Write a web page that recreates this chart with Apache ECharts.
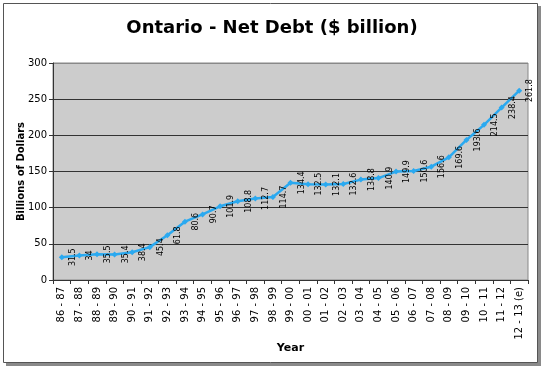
<!DOCTYPE html>
<html>
<head>
<meta charset="utf-8">
<script src="https://cdn.jsdelivr.net/npm/echarts@6/dist/echarts.min.js"></script>
<style>
html,body{margin:0;padding:0;background:#fff;}
#chart{width:544px;height:372px;}
</style>
</head>
<body>
<div id="chart"></div>
<script>
var categories = ['86 - 87','87 - 88','88 - 89','89 - 90','90 - 91','91 - 92','92 - 93','93 - 94','94 - 95','95 - 96','96 - 97','97 - 98','98 - 99','99 - 00','00 - 01','01 - 02','02 - 03','03 - 04','04 - 05','05 - 06','06 - 07','07 - 08','08 - 09','09 - 10','10 - 11','11 - 12','12 - 13 (e)'];
var netDebt = [31.5,34,35.5,35.4,38.4,45.4,61.8,80.6,90.7,101.9,108.8,112.7,114.7,134.4,132.5,132.1,132.6,138.8,140.9,149.9,150.6,156.6,169.6,193.6,214.5,238.4,261.8];
var yTicks = [0,50,100,150,200,250,300];

var FONT = 'DejaVu Sans';
var chart = echarts.init(document.getElementById('chart'), null, {renderer:'canvas'});
chart.setOption({
  animation: false,
  backgroundColor: '#ffffff',
  textStyle: {fontFamily: FONT},
  graphic: [
    {type:'rect', z:-10, shape:{x:6, y:6, width:535, height:360}, style:{fill:'#8a8a8a'}, silent:true},
    {type:'rect', z:-9, shape:{x:3.5, y:3.5, width:534, height:359}, style:{fill:'#ffffff', stroke:'#555555', lineWidth:1}, silent:true}
  ],
  title: {
    text: 'Ontario - Net Debt ($ billion)',
    left: 'center',
    top: 14,
    textStyle: {fontFamily: FONT, fontSize: 18, fontWeight: 'bold', color: '#000'}
  },
  grid: {
    left: 53, right: 16, top: 63, bottom: 92,
    show: true, backgroundColor: '#cccccc', borderColor: '#888888', borderWidth: 1
  },
  xAxis: {
    type: 'category',
    data: categories,
    boundaryGap: true,
    name: 'Year',
    nameLocation: 'middle',
    nameGap: 63,
    nameMoveOverlap: false,
    nameTextStyle: {fontFamily: FONT, fontSize: 11, fontWeight: 'bold', color: '#000'},
    axisLine: {lineStyle: {color: '#333', width: 1}},
    axisTick: {show: true, length: 4, lineStyle: {color: '#333'}},
    axisLabel: {interval: 0, rotate: 90, fontSize: 10, color: '#000', margin: 7, fontFamily: FONT}
  },
  yAxis: {
    type: 'value',
    min: yTicks[0],
    max: yTicks[yTicks.length - 1],
    interval: 50,
    name: 'Billions of Dollars',
    nameLocation: 'middle',
    nameGap: 27,
    nameMoveOverlap: false,
    nameTextStyle: {fontFamily: FONT, fontSize: 10, fontWeight: 'bold', color: '#000'},
    axisLine: {show: true, lineStyle: {color: '#333', width: 1}},
    axisTick: {show: true, length: 4, lineStyle: {color: '#333'}},
    axisLabel: {fontSize: 10, color: '#000', margin: 6, fontFamily: FONT},
    splitLine: {show: true, lineStyle: {color: ['#888','#333','#333','#333','#333','#333','#888'], width: 1}}
  },
  series: [{
    type: 'line',
    data: netDebt,
    symbol: 'diamond',
    symbolSize: 6,
    showSymbol: true,
    lineStyle: {color: '#2aa9f0', width: 2.5},
    itemStyle: {color: '#2aa9f0'},
    label: {
      show: true,
      position: 'right',
      distance: 8,
      rotate: 90,
      align: 'center',
      verticalAlign: 'middle',
      fontSize: 8,
      color: '#000',
      fontFamily: FONT
    }
  }]
});
</script>
</body>
</html>
